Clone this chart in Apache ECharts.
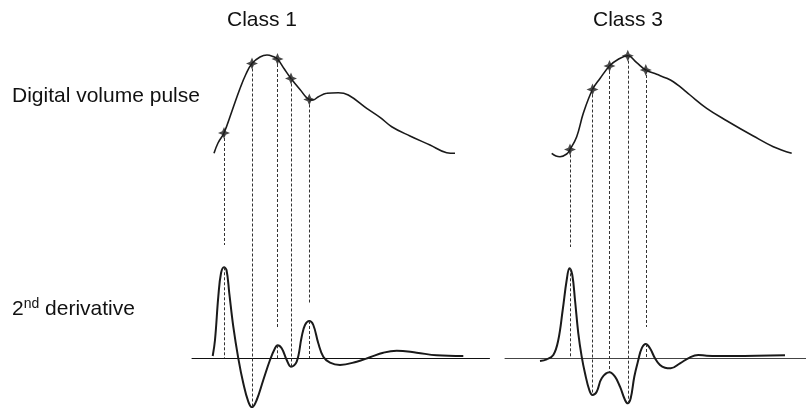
<!DOCTYPE html>
<html>
<head>
<meta charset="utf-8">
<script src="https://cdn.jsdelivr.net/npm/echarts@6/dist/echarts.min.js"></script>
<style>
html,body{margin:0;padding:0;background:#fff;}
#chart{width:806px;height:408px;}
</style>
</head>
<body>
<div id="chart"></div>
<script>
// ---- Data (time t in sample units, amplitude v in display units; derivative baseline = 0) ----
var classTitles = ['Class 1', 'Class 3'];
var rowLabels = ['Digital volume pulse', '2nd derivative'];

// Class 1 digital volume pulse
var pulse1T = [22, 26, 32, 40, 48, 54, 60, 68, 75, 81, 85.5, 92, 99, 108, 117.3, 121, 126, 134.7, 146.3, 156.3, 174.7, 188, 199.7, 218, 238, 254.7, 263];
var pulse1V = [204.7, 215, 225, 247, 269.5, 284, 294.5, 301, 303, 301.5, 299, 289.5, 279.5, 268.5, 258.5, 258, 261, 264.7, 265.3, 263, 249.7, 240.7, 231.3, 222, 213, 205.3, 204.7];
// Class 1 fiducial points on the pulse
var mark1T = [32, 60, 85.5, 99, 117.3];
var mark1V = [225, 294.5, 299, 279.5, 258.5];
// Class 1 second derivative
var deriv1T = [20.7, 23, 26.3, 29, 32, 34.5, 37.3, 41.3, 46.3, 51.3, 56.3, 60, 64.7, 71.3, 78, 83, 85.5, 89.7, 94.7, 99, 104.7, 109.7, 113, 117.3, 121.3, 126.3, 131.3, 138, 148, 164.7, 178, 191.3, 204.7, 224.7, 244.7, 271.3];
var deriv1V = [2, 18, 61.3, 84.7, 90.7, 88, 64.7, 31.3, -0.3, -25.3, -43.7, -49.3, -42, -22, -2, 9.7, 12.7, 9.7, -2, -8.7, -3.7, 21.3, 33, 37, 33, 14.7, 1.3, -4.7, -7, -3.7, 0.7, 5.3, 7.3, 5.3, 2.7, 2];
// Class 1 dashed guide ends: upper segment end, lower segment start (null = one continuous line)
var guide1UpperEnd = [113, -49.3, 30, -8.7, 55];
var guide1LowerStart = [90.7, null, 12.7, null, 37];

// Class 3 digital volume pulse
var pulse3T = [46.7, 51, 55, 61.7, 65, 71.7, 78.3, 87.5, 95, 104.5, 113.3, 122.8, 131.7, 140.8, 151.7, 161.7, 168.3, 175, 185, 201.7, 221.7, 248.3, 268.3, 286.7];
var pulse3V = [204.7, 202, 201.3, 204, 208.5, 221.3, 244.7, 268.5, 279.5, 292, 298.7, 302.3, 295.3, 288, 283.7, 279.7, 276.3, 271.3, 263, 249.7, 237.3, 222, 211.3, 204.7];
var mark3T = [65, 87.5, 104.5, 122.8, 140.8];
var mark3V = [208.5, 268.5, 292, 302.3, 288];
// Class 3 second derivative
var deriv3T = [35, 41.7, 48.3, 53.3, 57.7, 61.7, 64.5, 67.3, 70, 73.3, 76.7, 80, 84.3, 87.5, 91.7, 96.7, 104.5, 110, 115, 120, 122.8, 125.7, 129.3, 133.3, 136.7, 140.8, 145, 150, 155, 160, 165.7, 175, 185, 193.3, 201.7, 228.3, 280];
var deriv3V = [-3, -1.3, 3, 18, 48, 78, 89.7, 83, 58, 24.7, 1.3, -15.3, -32, -37, -33.7, -20.3, -14.3, -18.7, -28.7, -42, -45.3, -40.3, -18.7, -2, 9.7, 14, 9.7, -0.3, -7, -9.7, -10.3, -5.3, 0.7, 3, 2.3, 2, 2.7];
var guide3UpperEnd = [111, -37, -14.3, -45.3, 31];
var guide3LowerStart = [89.7, null, null, null, 14];

// ---- Build options ----
function pairs(t, v) { return t.map(function (x, i) { return [x, v[i]]; }); }
function guides(t, v, upEnd, lowStart) {
  var out = [];
  t.forEach(function (x, i) {
    out.push([{ coord: [x, v[i]] }, { coord: [x, upEnd[i]] }]);
    if (lowStart[i] !== null) out.push([{ coord: [x, lowStart[i]] }, { coord: [x, 0] }]);
  });
  return out;
}
var ink = '#1a1a1a';
var star = 'path://M0,-6 L1.8,-1.8 L6,0 L1.8,1.8 L0,6 L-1.8,1.8 L-6,0 L-1.8,-1.8 Z';
var fontFam = '"Liberation Sans", Arial, Helvetica, sans-serif';
var labelStyle = { fontFamily: fontFam, fontSize: 21, fontWeight: 'normal', color: '#111' };

function axisX(idx, max, lineColor) {
  return {
    type: 'value', gridIndex: idx, min: 0, max: max,
    axisLine: { show: true, onZero: true, lineStyle: { color: lineColor, width: 1 } },
    axisTick: { show: false }, axisLabel: { show: false }, splitLine: { show: false }
  };
}
function axisY(idx) {
  return {
    type: 'value', gridIndex: idx, min: -50, max: 358,
    axisLine: { show: false }, axisTick: { show: false }, axisLabel: { show: false }, splitLine: { show: false }
  };
}
function classSeries(idx, pT, pV, mT, mV, dT, dV, upEnd, lowStart) {
  return [
    { type: 'line', xAxisIndex: idx, yAxisIndex: idx, data: pairs(pT, pV), smooth: 0.4, showSymbol: false,
      lineStyle: { color: ink, width: 1.6 }, z: 3 },
    { type: 'line', xAxisIndex: idx, yAxisIndex: idx, data: pairs(dT, dV), smooth: 0.4, showSymbol: false,
      lineStyle: { color: ink, width: 2 }, z: 3 },
    { type: 'scatter', xAxisIndex: idx, yAxisIndex: idx, data: pairs(mT, mV), symbol: star, symbolSize: 12,
      itemStyle: { color: ink }, z: 4,
      markLine: { silent: true, symbol: ['none', 'none'], label: { show: false },
        lineStyle: { color: '#333', width: 1, type: [3, 2] }, data: guides(mT, mV, upEnd, lowStart) } }
  ];
}

var option = {
  animation: false,
  backgroundColor: '#fff',
  title: [
    { text: classTitles[0], left: 227, top: 10, padding: 0, textStyle: labelStyle },
    { text: classTitles[1], left: 593, top: 10, padding: 0, textStyle: labelStyle },
    { text: rowLabels[0], left: 12, top: 86, padding: 0, textStyle: labelStyle },
    { text: '{b|2}{s|nd}{b| derivative}', left: 12, top: 297, padding: 0,
      textStyle: { fontFamily: fontFam, fontWeight: 'normal', color: '#111',
        rich: { b: { fontFamily: fontFam, fontSize: 21, lineHeight: 25, color: '#111' },
                s: { fontFamily: fontFam, fontSize: 14, lineHeight: 15, verticalAlign: 'top', color: '#111' } } } }
  ],
  grid: [
    { left: 192, width: 297.5, top: 0, height: 408 },
    { left: 505, width: 301, top: 0, height: 408 }
  ],
  xAxis: [axisX(0, 297.5, '#111'), axisX(1, 301, '#444')],
  yAxis: [axisY(0), axisY(1)],
  series: [].concat(
    classSeries(0, pulse1T, pulse1V, mark1T, mark1V, deriv1T, deriv1V, guide1UpperEnd, guide1LowerStart),
    classSeries(1, pulse3T, pulse3V, mark3T, mark3V, deriv3T, deriv3V, guide3UpperEnd, guide3LowerStart)
  )
};
var chart = echarts.init(document.getElementById('chart'), null, { renderer: 'canvas' });
chart.setOption(option);
</script>
</body>
</html>
